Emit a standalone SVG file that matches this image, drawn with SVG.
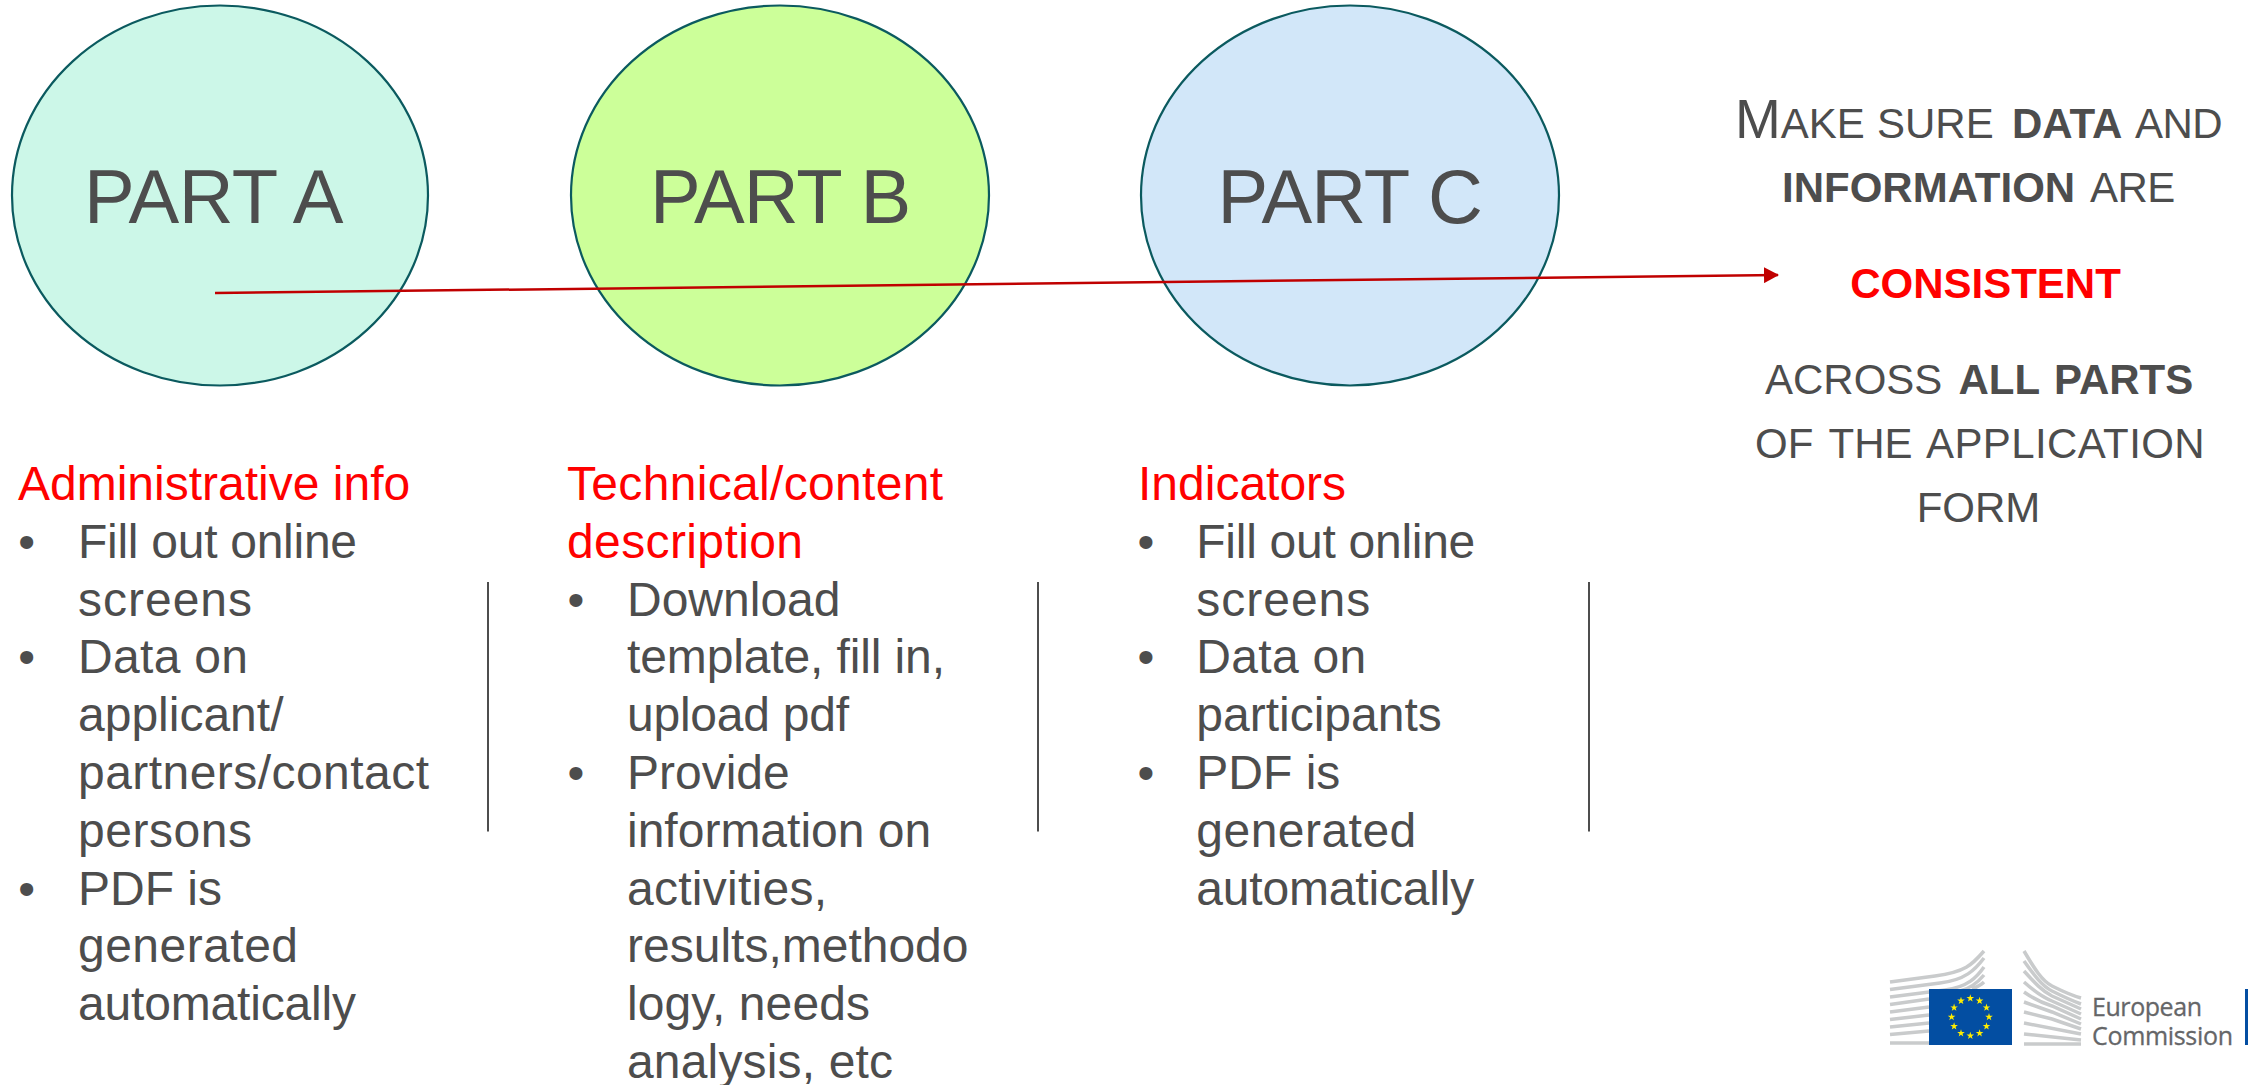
<svg xmlns="http://www.w3.org/2000/svg" xmlns:xlink="http://www.w3.org/1999/xlink" width="2248" height="1085" viewBox="0 0 2248 1085">
<style>
text{font-family:"Liberation Sans",Arial,sans-serif;fill:#4d4d4d}
.part{font-size:76px;letter-spacing:-1px}
.body{font-size:48px}
.head{font-size:48px;fill:#ff0000}
.sm{font-size:42px}
.b{font-weight:bold}
.c{text-anchor:middle}
.oval{stroke:#0b5a5f;stroke-width:2.2}
.sep{stroke:#4d4d4d;stroke-width:2;fill:none}
.bld{fill:none;stroke:#c9cbcc;stroke-width:3.5}
.logo{font-family:"Open Sans","Noto Sans",sans-serif;font-size:25px;fill:#656668;stroke:#656668;stroke-width:.3}
</style>
<defs>
<marker id="ah" markerUnits="userSpaceOnUse" markerWidth="16" markerHeight="16" refX="14" refY="8" orient="auto"><path d="M0 0L15 8L0 16Z" fill="#c00000"/></marker>
<polygon id="st" points="0,-4 .9,-1.2 3.8,-1.2 1.5,.5 2.3,3.2 0,1.6 -2.3,3.2 -1.5,.5 -3.8,-1.2 -.9,-1.2" fill="#ffed00"/>
</defs>
<g id="part-a"><ellipse class="oval" cx="220" cy="195.500" rx="208" ry="190" fill="#ccf7e8"/><text class="part" x="84" y="222.500" style="letter-spacing:-.5px">PART A</text></g>
<g id="part-b"><ellipse class="oval" cx="780" cy="195.500" rx="209" ry="190" fill="#ccff99"/><text class="part" x="650" y="222.500">PART B</text></g>
<g id="part-c"><ellipse class="oval" cx="1350" cy="195.500" rx="209" ry="190" fill="#d2e7f9"/><text class="part" x="1217.500" y="222.500">PART C</text></g>
<g id="connectors"><line x1="215" y1="293" x2="1778" y2="275" stroke="#c00000" stroke-width="2.500" marker-end="url(#ah)"/></g>
<g id="consistency-note">
<text x="1735" y="137.500"><tspan font-size="55">M</tspan><tspan class="sm">AKE</tspan><tspan class="sm" x="1877">SURE</tspan><tspan class="sm b" x="2012">DATA</tspan><tspan class="sm" x="2135" letter-spacing="-.5">AND</tspan></text>
<text class="sm" x="1782" y="202"><tspan class="b">INFORMATION</tspan><tspan x="2090" letter-spacing="-.5">ARE</tspan></text>
<text class="sm b c" x="1985.500" y="297.500" style="fill:#ff0000">CONSISTENT</text>
<text class="sm" x="1765" y="394">ACROSS<tspan class="b" x="1958.500">ALL</tspan><tspan class="b" x="2054">PARTS</tspan></text>
<text class="sm" x="1755" y="458">OF<tspan x="1828.500">THE</tspan><tspan x="1926" letter-spacing=".4">APPLICATION</tspan></text>
<text class="sm c" x="1978.500" y="522">FORM</text>
</g>
<g id="col-a">
<text class="head" x="18" y="500">Administrative info</text>
<text class="body" x="18.300" y="557.800">•</text><text class="body" x="78" y="557.800" textLength="279">Fill out online</text>
<text class="body" x="78" y="615.600" textLength="174">screens</text>
<text class="body" x="18.300" y="673.400">•</text><text class="body" x="78" y="673.400" textLength="170">Data on</text>
<text class="body" x="78" y="731.200">applicant/</text>
<text class="body" x="78" y="789" textLength="351">partners/contact</text>
<text class="body" x="78" y="846.800" textLength="174">persons</text>
<text class="body" x="18.300" y="904.600">•</text><text class="body" x="78" y="904.600" textLength="144">PDF is</text>
<text class="body" x="78" y="962.400" textLength="220">generated</text>
<text class="body" x="78" y="1020.200" textLength="278">automatically</text>
</g>
<g id="col-b">
<text class="head" x="567" y="500" textLength="376">Technical/content</text>
<text class="head" x="567" y="557.800" textLength="236">description</text>
<text class="body" x="567.600" y="615.600">•</text><text class="body" x="627" y="615.600">Download</text>
<text class="body" x="627" y="673.400" textLength="318">template, fill in,</text>
<text class="body" x="627" y="731.200" textLength="222">upload pdf</text>
<text class="body" x="567.600" y="789">•</text><text class="body" x="627" y="789">Provide</text>
<text class="body" x="627" y="846.800">information on</text>
<text class="body" x="627" y="904.600" textLength="200">activities,</text>
<text class="body" x="627" y="962.400">results,methodo</text>
<text class="body" x="627" y="1020.200" textLength="243">logy, needs</text>
<text class="body" x="627" y="1078" textLength="266">analysis, etc</text>
</g>
<g id="col-c">
<text class="head" x="1138" y="500">Indicators</text>
<text class="body" x="1137.500" y="557.800">•</text><text class="body" x="1196.300" y="557.800" textLength="279">Fill out online</text>
<text class="body" x="1196.300" y="615.600" textLength="174">screens</text>
<text class="body" x="1137.500" y="673.400">•</text><text class="body" x="1196.300" y="673.400" textLength="170">Data on</text>
<text class="body" x="1196.300" y="731.200">participants</text>
<text class="body" x="1137.500" y="789">•</text><text class="body" x="1196.300" y="789" textLength="144">PDF is</text>
<text class="body" x="1196.300" y="846.800" textLength="220">generated</text>
<text class="body" x="1196.300" y="904.600" textLength="278">automatically</text>
</g>
<g id="separators">
<line class="sep" x1="488" y1="582" x2="488" y2="831.500"/>
<line class="sep" x1="1038" y1="582" x2="1038" y2="831.500"/>
<line class="sep" x1="1589" y1="582" x2="1589" y2="831.500"/>
</g>
<g id="logo">
<path class="bld" d="M1890 982L1935 976C1965 972 1972 965 1984 951M1890 989.500L1940 983C1965 980 1975 970 1984 958M1890 997L1945 990C1968 987 1977 977 1984 967M1890 1004.500L1929 999M1960 991C1972 988 1979 981 1984 975M1972 989C1977 987 1981 985 1984 982M1890 1012L1929 1007M1890 1019.500L1929 1015M1890 1027L1929 1023M1890 1034.500L1929 1031M1890 1043H1929"/>
<path class="bld" d="M2024 951C2034 968 2042 981 2052 986C2060 990 2070 995 2081 998M2024 961C2034 975 2042 986 2052 991C2060 995 2070 1000 2081 1004M2024 971C2034 982 2042 991 2052 996L2081 1009M2024 982C2034 991 2042 997 2052 1001L2081 1014M2024 992C2034 999 2042 1003 2052 1006L2081 1019M2024 1002L2052 1012L2081 1024M2024 1012L2052 1019L2081 1029M2024 1023L2081 1034M2024 1034L2081 1040M2024 1044H2081"/>
<rect x="1929" y="989" width="83" height="56" fill="#034ea2"/>
<use xlink:href="#st" x="1970.300" y="998.300"/><use xlink:href="#st" x="1979.600" y="1000.800"/><use xlink:href="#st" x="1986.500" y="1007.600"/><use xlink:href="#st" x="1989" y="1017"/><use xlink:href="#st" x="1986.500" y="1026.300"/><use xlink:href="#st" x="1979.600" y="1033.200"/><use xlink:href="#st" x="1970.300" y="1035.700"/><use xlink:href="#st" x="1961" y="1033.200"/><use xlink:href="#st" x="1954.100" y="1026.300"/><use xlink:href="#st" x="1951.600" y="1017"/><use xlink:href="#st" x="1954.100" y="1007.600"/><use xlink:href="#st" x="1961" y="1000.800"/>
<text class="logo" x="2092" y="1016" textLength="110">European</text>
<text class="logo" x="2092" y="1045" textLength="141">Commission</text>
<rect x="2245" y="989" width="3" height="56" fill="#034ea2"/>
</g>
</svg>
